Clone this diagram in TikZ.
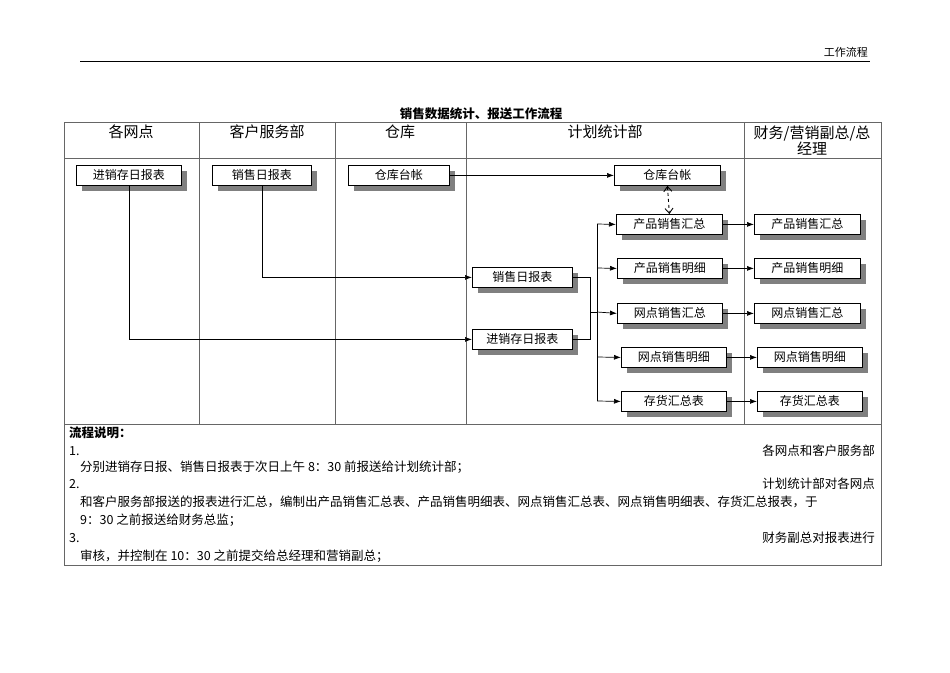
\documentclass[tikz,border=0pt]{standalone}
\usepackage{fontspec}
\setmainfont{Noto Sans CJK SC}
\usetikzlibrary{arrows.meta}
\begin{document}
\begin{tikzpicture}[x=1pt,y=-1pt,
  bx/.style={draw=black,fill=white,line width=0.8pt,minimum height=20pt,inner sep=0pt,font=\fontsize{12}{12}\selectfont},
  shd/.style={fill=black!50},
  ar/.style={-{Latex[length=7pt,width=5pt]},line width=0.7pt},
  ln/.style={line width=0.7pt},
  grid/.style={draw=black!60,line width=0.6pt},
  txt/.style={font=\fontsize{12.5}{13}\selectfont,inner sep=0pt}]
\useasboundingbox (0,0) rectangle (950,672);
% page header
\draw[line width=0.8pt] (80,61) -- (870,61);
\node[txt,anchor=south east,font=\fontsize{11}{11}\selectfont] (hdr) at (868,58) {工作流程};
\node[txt,font=\bfseries\fontsize{12.5}{13}\selectfont] (title) at (481,114) {销售数据统计、报送工作流程};
% table
\draw[grid] (64,122) rectangle (881,565);
\draw[grid] (64,158) -- (881,158);
\draw[grid] (64,424) -- (881,424);
\foreach \x in {199,335,466,744} \draw[grid] (\x,122) -- (\x,424);
\node[txt,font=\fontsize{15}{16}\selectfont] (h1) at (131,132) {各网点};
\node[txt,font=\fontsize{15}{16}\selectfont] (h2) at (267,132) {客户服务部};
\node[txt,font=\fontsize{15}{16}\selectfont] (h3) at (400,132) {仓库};
\node[txt,font=\fontsize{15}{16}\selectfont] (h4) at (605,132) {计划统计部};
\node[txt,font=\fontsize{15}{16}\selectfont,align=center] (h5) at (812,141) {财务/营销副总/总\\经理};
% boxes with shadows
\newcommand{\shbox}[6]{% name, x1,y1,x2,y2,text
  \fill[shd] (#2+6,#3+6) rectangle (#4+6,#5+6);
  \node[bx,minimum width={#4-#2},anchor=north west] (#1) at (#2,#3) {#6};}
\shbox{a}{76}{165}{181}{185}{进销存日报表}
\shbox{b}{212}{165}{311}{185}{销售日报表}
\shbox{c}{348}{165}{449}{185}{仓库台帐}
\shbox{d}{614}{165}{720}{185}{仓库台帐}
\shbox{p1}{616}{214}{722}{234}{产品销售汇总}
\shbox{p2}{617}{258}{722}{278}{产品销售明细}
\shbox{p3}{617}{303}{722}{323}{网点销售汇总}
\shbox{p4}{621}{347}{726}{367}{网点销售明细}
\shbox{p5}{621}{391}{726}{411}{存货汇总表}
\shbox{m1}{472}{267}{572}{287}{销售日报表}
\shbox{m2}{472}{329}{572}{349}{进销存日报表}
\shbox{q1}{754}{214}{860}{234}{产品销售汇总}
\shbox{q2}{754}{258}{860}{278}{产品销售明细}
\shbox{q3}{754}{303}{860}{323}{网点销售汇总}
\shbox{q4}{757}{347}{862}{367}{网点销售明细}
\shbox{q5}{757}{391}{862}{411}{存货汇总表}
% connectors
\draw[ar] (a.south) |- (m2.west);
\draw[ar] (b.south) |- (m1.west);
\draw[ar] (c.east) -- (d.west);
\draw[{Straight Barb[length=5pt,width=8pt]}-{Straight Barb[length=5pt,width=8pt]},dashed,line width=0.9pt] (d.south) -- (p1.north);
\coordinate (j1) at (590,312);
\coordinate (tr) at (597,312);
\draw[ln] (m1.east) -| (j1);
\draw[ln] (m2.east) -| (j1);
\draw[ln] (j1) -- (tr);
\draw[ln] (597,224) -- (597,401);
\draw[ar] (597,224) -- (p1.west);
\draw[ar] (597,268) -- (p2.west);
\draw[ar] (tr) -- (p3.west);
\draw[ar] (597,357) -- (p4.west);
\draw[ar] (597,401) -- (p5.west);
\draw[ar] (p1.east) -- (q1.west);
\draw[ar] (p2.east) -- (q2.west|-p2.east);
\draw[ar] (p3.east) -- (q3.west|-p3.east);
\draw[ar] (p4.east) -- (q4.west|-p4.east);
\draw[ar] (p5.east) -- (q5.west|-p5.east);
% notes
\node[txt,anchor=west,font=\bfseries\fontsize{12.5}{13}\selectfont] (n0) at (69,433) {流程说明：};
\node[txt,anchor=west] (n1) at (69,451) {1.};
\node[txt,anchor=east] (n1r) at (875,451) {各网点和客户服务部};
\node[txt,anchor=west] (n2) at (80,467) {分别进销存日报、销售日报表于次日上午 8：30 前报送给计划统计部；};
\node[txt,anchor=west] (n3) at (69,484) {2.};
\node[txt,anchor=east] (n3r) at (875,484) {计划统计部对各网点};
\node[txt,anchor=west,text width=795pt,align=justify] (n4) at (80,502) {和客户服务部报送的报表进行汇总，编制出产品销售汇总表、产品销售明细表、网点销售汇总表、网点销售明细表、存货汇总报表，于};
\node[txt,anchor=west] (n5) at (80,520) {9：30 之前报送给财务总监；};
\node[txt,anchor=west] (n6) at (69,538) {3.};
\node[txt,anchor=east] (n6r) at (875,538) {财务副总对报表进行};
\node[txt,anchor=west] (n7) at (80,556) {审核，并控制在 10：30 之前提交给总经理和营销副总；};
\end{tikzpicture}
\end{document}
